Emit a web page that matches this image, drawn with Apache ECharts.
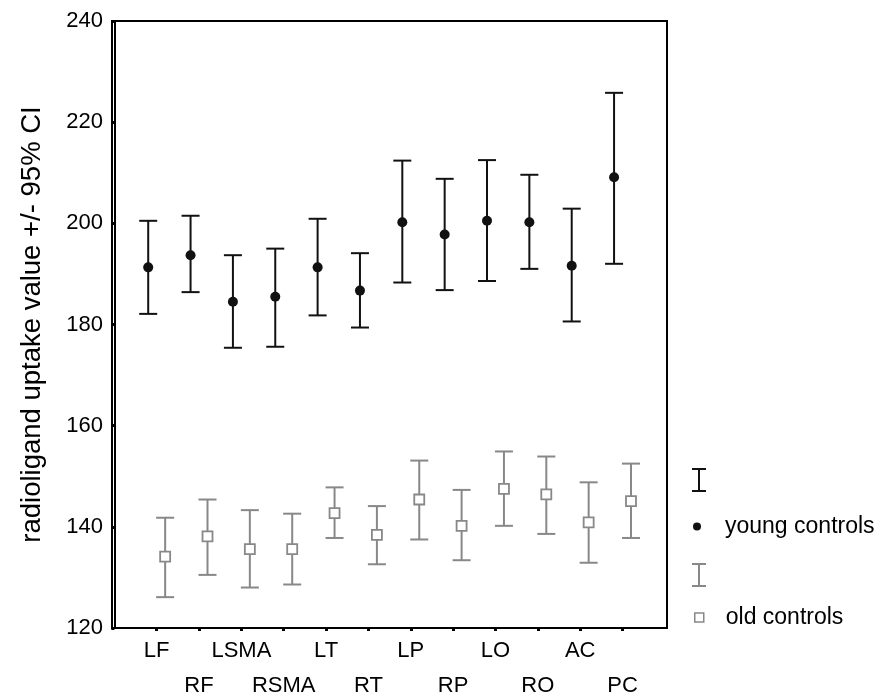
<!DOCTYPE html>
<html>
<head>
<meta charset="utf-8">
<script src="https://cdn.jsdelivr.net/npm/echarts@6/dist/echarts.min.js"></script>
<style>
  html, body { margin: 0; padding: 0; background: #fff; }
  #chart { width: 881px; height: 700px; }
</style>
</head>
<body>
<div id="chart"></div>
<script>
// regions along the x axis
const categories = ['LF', 'RF', 'LSMA', 'RSMA', 'LT', 'RT', 'LP', 'RP', 'LO', 'RO', 'AC', 'PC'];

// young controls: mean and 95% CI
const youngMean = [191.3, 193.7, 184.5, 185.5, 191.3, 186.7, 200.2, 197.8, 200.5, 200.2, 191.6, 209.1];
const youngLow  = [182.1, 186.4, 175.4, 175.6, 181.8, 179.4, 188.3, 186.8, 188.6, 191.0, 180.6, 192.0];
const youngHigh = [200.5, 201.5, 193.7, 195.0, 200.9, 194.1, 212.4, 208.8, 212.5, 209.6, 202.9, 225.8];

// old controls: mean and 95% CI
const oldMean = [134.1, 138.1, 135.6, 135.6, 142.7, 138.4, 145.4, 140.2, 147.5, 146.4, 140.9, 145.1];
const oldLow  = [126.1, 130.5, 128.0, 128.6, 137.8, 132.6, 137.5, 133.4, 140.2, 138.6, 132.9, 137.8];
const oldHigh = [141.8, 145.4, 143.3, 142.6, 147.8, 144.1, 153.1, 147.3, 154.9, 153.9, 148.8, 152.5];

const yTicks = [120, 140, 160, 180, 200, 220, 240];

const FONT = 'Liberation Sans, Arial, sans-serif';
const GREY = '#888888';
const DARK = '#111111';
const shift = 0.2; // cluster offset of the two groups

const chart = echarts.init(document.getElementById('chart'));

// error bar drawing (vertical line + caps)
function errorBar(color) {
  return function (params, api) {
    const x = api.value(0);
    const top = api.coord([x, api.value(2)]);
    const bot = api.coord([x, api.value(1)]);
    const half = 9;
    const style = { stroke: color, lineWidth: 2, fill: null };
    return {
      type: 'group',
      children: [
        { type: 'line', shape: { x1: top[0], y1: top[1], x2: bot[0], y2: bot[1] }, style },
        { type: 'line', shape: { x1: top[0] - half, y1: top[1], x2: top[0] + half, y2: top[1] }, style },
        { type: 'line', shape: { x1: bot[0] - half, y1: bot[1], x2: bot[0] + half, y2: bot[1] }, style }
      ]
    };
  };
}

const barIcon = 'path://M0,0H14V2H8V22H14V24H0V22H6V2H0Z';

const option = {
  backgroundColor: '#fff',
  animation: false,
  textStyle: { fontFamily: FONT },
  grid: {
    left: 112, top: 21, width: 555, height: 607,
    outerBoundsMode: 'none',
    show: true, borderColor: '#000', borderWidth: 2, backgroundColor: 'transparent'
  },
  legend: [
    {
      data: ['young CI'], orient: 'vertical', left: 692, top: 468, padding: 0,
      itemWidth: 14, itemHeight: 24, selectedMode: false,
      formatter: () => '', icon: barIcon
    },
    {
      data: [{ name: 'young controls', icon: 'circle' }], orient: 'vertical', left: 693, top: 515, padding: 0,
      itemWidth: 8, itemHeight: 8, selectedMode: false,
      textStyle: { fontSize: 23, color: '#000', fontFamily: FONT, padding: [0, 0, 0, 19] }
    },
    {
      data: ['old CI'], orient: 'vertical', left: 692, top: 563, padding: 0,
      itemWidth: 14, itemHeight: 24, selectedMode: false,
      formatter: () => '', icon: barIcon
    },
    {
      data: [{ name: 'old controls', icon: 'rect', itemStyle: { color: '#fff', borderColor: GREY, borderWidth: 1.5 } }],
      orient: 'vertical', left: 694, top: 606, padding: 0,
      itemWidth: 9, itemHeight: 9, selectedMode: false,
      textStyle: { fontSize: 23, color: '#000', fontFamily: FONT, padding: [0, 0, 0, 17] }
    }
  ],
  xAxis: {
    type: 'value',
    min: -0.055,
    max: 13.05,
    splitLine: { show: false },
    axisLine: { show: true, onZero: false, lineStyle: { color: '#000', width: 2 } },
    axisTick: {
      show: true, length: 3, customValues: categories.map((c, i) => i + 1),
      lineStyle: { color: '#000', width: 3 }
    },
    axisLabel: {
      customValues: categories.map((c, i) => i + 1),
      fontSize: 22, color: '#000', fontFamily: FONT, margin: 5, lineHeight: 35,
      formatter: v => {
        const i = Math.round(v) - 1;
        const name = categories[i] || '';
        return i % 2 === 0 ? name : '\n' + name;
      }
    }
  },
  yAxis: {
    type: 'value',
    min: yTicks[0],
    max: yTicks[yTicks.length - 1],
    interval: 20,
    name: 'radioligand uptake value +/- 95% CI',
    nameLocation: 'middle',
    nameGap: 66,
    nameTextStyle: { fontSize: 27.5, color: '#000', fontFamily: FONT },
    splitLine: { show: false },
    axisLine: { show: true, lineStyle: { color: '#000', width: 2 } },
    axisTick: { show: true, length: 3, lineStyle: { color: '#000', width: 3 } },
    axisLabel: { fontSize: 22, color: '#000', fontFamily: FONT, margin: 9 }
  },
  series: [
    {
      name: 'young CI',
      type: 'custom',
      itemStyle: { color: DARK },
      renderItem: errorBar(DARK),
      encode: { x: 0, y: [1, 2] },
      data: categories.map((c, i) => [i + 1 - shift, youngLow[i], youngHigh[i]]),
      z: 2
    },
    {
      name: 'young controls',
      type: 'scatter',
      symbol: 'circle',
      symbolSize: 10,
      itemStyle: { color: DARK, opacity: 1 },
      data: categories.map((c, i) => [i + 1 - shift, youngMean[i]]),
      z: 3
    },
    {
      name: 'old CI',
      type: 'custom',
      itemStyle: { color: GREY },
      renderItem: errorBar(GREY),
      encode: { x: 0, y: [1, 2] },
      data: categories.map((c, i) => [i + 1 + shift, oldLow[i], oldHigh[i]]),
      z: 2
    },
    {
      name: 'old controls',
      type: 'scatter',
      symbol: 'rect',
      symbolSize: 10,
      itemStyle: { color: '#fff', borderColor: GREY, borderWidth: 1.8, opacity: 1 },
      data: categories.map((c, i) => [i + 1 + shift, oldMean[i]]),
      z: 3
    }
  ]
};

chart.setOption(option);
</script>
</body>
</html>
